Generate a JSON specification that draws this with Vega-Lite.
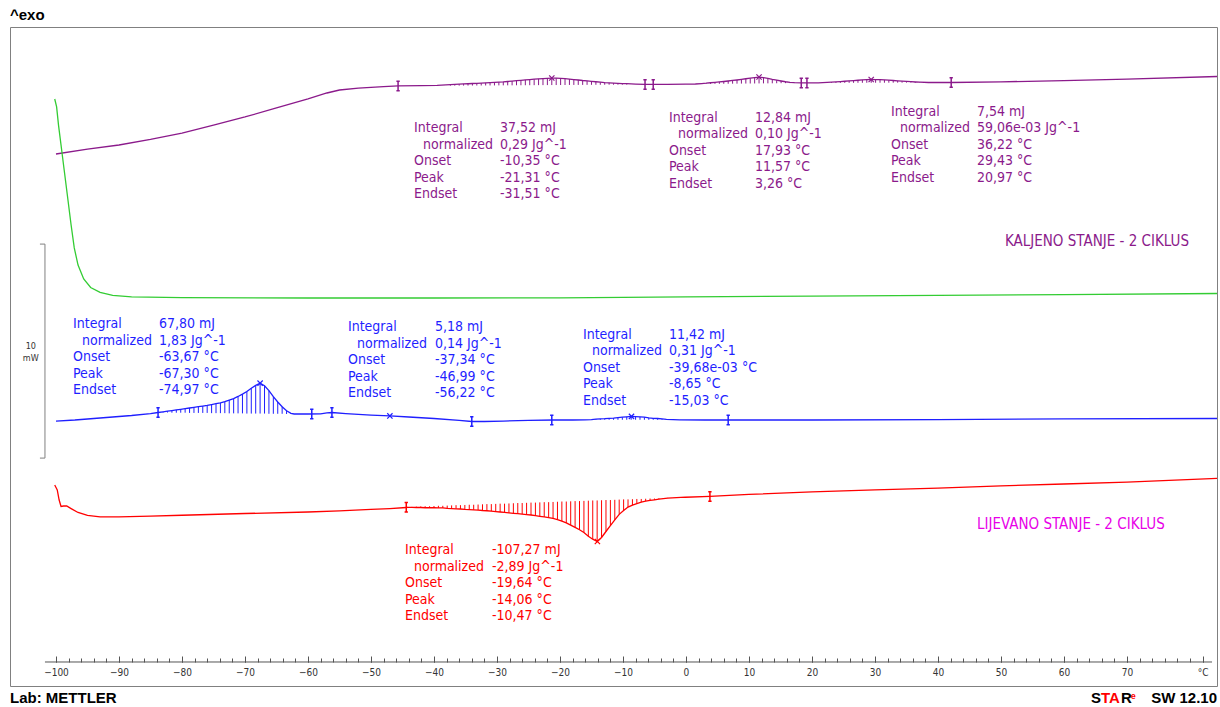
{
  "$schema": "https://vega.github.io/schema/vega-lite/v6.json",
  "width": 1207,
  "height": 659,
  "autosize": {"type": "none"},
  "padding": {"left": 10, "top": 27, "right": 3, "bottom": 21},
  "background": "white",
  "config": {"view": {"stroke": "#808080", "strokeWidth": 1}},
  "resolve": {"axis": {"x": "independent"}},
  "datasets": {
    "curves": [
      {"s":"purple","T":-100,"hf":24.86},{"s":"purple","T":-95,"hf":25.09},{"s":"purple","T":-90,"hf":25.28},{"s":"purple","T":-85,"hf":25.54},{"s":"purple","T":-80,"hf":25.84},{"s":"purple","T":-75,"hf":26.21},{"s":"purple","T":-70,"hf":26.59},{"s":"purple","T":-65,"hf":27.01},{"s":"purple","T":-60,"hf":27.43},{"s":"purple","T":-57,"hf":27.71},{"s":"purple","T":-55,"hf":27.85},{"s":"purple","T":-52,"hf":27.94},{"s":"purple","T":-48,"hf":28.01},{"s":"purple","T":-45.7,"hf":28.04},{"s":"purple","T":-42,"hf":28.05},{"s":"purple","T":-39.5,"hf":28.07},
      {"s":"purple","T":-37.4,"hf":28.106,"base":28.052},{"s":"purple","T":-36.7,"hf":28.115,"base":28.053},{"s":"purple","T":-36.0,"hf":28.124,"base":28.054},{"s":"purple","T":-35.3,"hf":28.134,"base":28.056},{"s":"purple","T":-34.6,"hf":28.143,"base":28.057},{"s":"purple","T":-33.9,"hf":28.153,"base":28.058},{"s":"purple","T":-33.2,"hf":28.162,"base":28.059},{"s":"purple","T":-32.5,"hf":28.172,"base":28.061},{"s":"purple","T":-31.8,"hf":28.183,"base":28.062},{"s":"purple","T":-31.1,"hf":28.195,"base":28.063},{"s":"purple","T":-30.4,"hf":28.207,"base":28.064},{"s":"purple","T":-29.7,"hf":28.22,"base":28.066},{"s":"purple","T":-29.0,"hf":28.231,"base":28.067},{"s":"purple","T":-28.3,"hf":28.248,"base":28.068},{"s":"purple","T":-27.6,"hf":28.265,"base":28.069},{"s":"purple","T":-26.9,"hf":28.284,"base":28.071},{"s":"purple","T":-26.2,"hf":28.301,"base":28.072},{"s":"purple","T":-25.5,"hf":28.319,"base":28.073},{"s":"purple","T":-24.8,"hf":28.337,"base":28.074},{"s":"purple","T":-24.1,"hf":28.355,"base":28.076},{"s":"purple","T":-23.4,"hf":28.373,"base":28.077},{"s":"purple","T":-22.7,"hf":28.384,"base":28.078},{"s":"purple","T":-22.0,"hf":28.396,"base":28.079},{"s":"purple","T":-21.3,"hf":28.408,"base":28.081},{"s":"purple","T":-20.6,"hf":28.402,"base":28.082},{"s":"purple","T":-19.9,"hf":28.396,"base":28.083},{"s":"purple","T":-19.2,"hf":28.383,"base":28.084},{"s":"purple","T":-18.5,"hf":28.362,"base":28.086},{"s":"purple","T":-17.8,"hf":28.339,"base":28.087},{"s":"purple","T":-17.1,"hf":28.317,"base":28.088},{"s":"purple","T":-16.4,"hf":28.295,"base":28.089},{"s":"purple","T":-15.7,"hf":28.278,"base":28.091},{"s":"purple","T":-15.0,"hf":28.256,"base":28.092},{"s":"purple","T":-14.3,"hf":28.236,"base":28.093},{"s":"purple","T":-13.6,"hf":28.215,"base":28.094},{"s":"purple","T":-12.9,"hf":28.194,"base":28.096},{"s":"purple","T":-12.2,"hf":28.183,"base":28.097},{"s":"purple","T":-11.5,"hf":28.17,"base":28.098},{"s":"purple","T":-10.8,"hf":28.16,"base":28.099},{"s":"purple","T":-10.1,"hf":28.151,"base":28.1},{"s":"purple","T":-9.4,"hf":28.144,"base":28.102},
      {"s":"purple","T":-8,"hf":28.125},{"s":"purple","T":-6.5,"hf":28.11},{"s":"purple","T":-5.2,"hf":28.11},{"s":"purple","T":-3,"hf":28.11},{"s":"purple","T":0,"hf":28.12},{"s":"purple","T":1.5,"hf":28.13},
      {"s":"purple","T":2.5,"hf":28.151,"base":28.13},{"s":"purple","T":3.2,"hf":28.167,"base":28.132},{"s":"purple","T":3.9,"hf":28.188,"base":28.134},{"s":"purple","T":4.6,"hf":28.206,"base":28.136},{"s":"purple","T":5.3,"hf":28.227,"base":28.138},{"s":"purple","T":6.0,"hf":28.247,"base":28.14},{"s":"purple","T":6.7,"hf":28.271,"base":28.142},{"s":"purple","T":7.4,"hf":28.295,"base":28.145},{"s":"purple","T":8.1,"hf":28.318,"base":28.147},{"s":"purple","T":8.8,"hf":28.345,"base":28.149},{"s":"purple","T":9.5,"hf":28.375,"base":28.151},{"s":"purple","T":10.2,"hf":28.403,"base":28.153},{"s":"purple","T":10.9,"hf":28.431,"base":28.155},{"s":"purple","T":11.6,"hf":28.456,"base":28.157},{"s":"purple","T":12.3,"hf":28.425,"base":28.159},{"s":"purple","T":13.0,"hf":28.395,"base":28.161},{"s":"purple","T":13.7,"hf":28.35,"base":28.163},{"s":"purple","T":14.4,"hf":28.31,"base":28.165},{"s":"purple","T":15.1,"hf":28.271,"base":28.168},{"s":"purple","T":15.8,"hf":28.235,"base":28.17},{"s":"purple","T":16.5,"hf":28.209,"base":28.172},{"s":"purple","T":17.2,"hf":28.193,"base":28.174},
      {"s":"purple","T":18.3,"hf":28.18},{"s":"purple","T":19.2,"hf":28.18},{"s":"purple","T":21,"hf":28.18},
      {"s":"purple","T":22.4,"hf":28.202,"base":28.181},{"s":"purple","T":23.1,"hf":28.215,"base":28.182},{"s":"purple","T":23.8,"hf":28.227,"base":28.183},{"s":"purple","T":24.5,"hf":28.241,"base":28.183},{"s":"purple","T":25.2,"hf":28.259,"base":28.184},{"s":"purple","T":25.9,"hf":28.276,"base":28.185},{"s":"purple","T":26.6,"hf":28.29,"base":28.185},{"s":"purple","T":27.3,"hf":28.305,"base":28.186},{"s":"purple","T":28.0,"hf":28.323,"base":28.187},{"s":"purple","T":28.7,"hf":28.333,"base":28.188},{"s":"purple","T":29.4,"hf":28.342,"base":28.188},{"s":"purple","T":30.1,"hf":28.339,"base":28.189},{"s":"purple","T":30.8,"hf":28.333,"base":28.19},{"s":"purple","T":31.5,"hf":28.321,"base":28.19},{"s":"purple","T":32.2,"hf":28.308,"base":28.191},{"s":"purple","T":32.9,"hf":28.295,"base":28.192},{"s":"purple","T":33.6,"hf":28.279,"base":28.193},{"s":"purple","T":34.3,"hf":28.263,"base":28.193},{"s":"purple","T":35.0,"hf":28.25,"base":28.194},{"s":"purple","T":35.7,"hf":28.237,"base":28.195},{"s":"purple","T":36.4,"hf":28.224,"base":28.196},{"s":"purple","T":37.1,"hf":28.215,"base":28.196},
      {"s":"purple","T":38.5,"hf":28.2},{"s":"purple","T":42.1,"hf":28.2},{"s":"purple","T":50,"hf":28.23},{"s":"purple","T":60,"hf":28.29},{"s":"purple","T":70,"hf":28.36},{"s":"purple","T":84.3,"hf":28.48},

      {"s":"green","T":-100.2,"hf":27.43},{"s":"green","T":-99.9,"hf":27.06},{"s":"green","T":-99.6,"hf":26.21},{"s":"green","T":-99.2,"hf":25.28},{"s":"green","T":-98.7,"hf":24.11},{"s":"green","T":-98.1,"hf":22.71},{"s":"green","T":-97.6,"hf":21.54},{"s":"green","T":-97.1,"hf":20.47},{"s":"green","T":-96.5,"hf":19.67},{"s":"green","T":-95.6,"hf":19.02},{"s":"green","T":-94.5,"hf":18.62},{"s":"green","T":-93,"hf":18.39},{"s":"green","T":-91,"hf":18.25},{"s":"green","T":-88,"hf":18.18},{"s":"green","T":-80,"hf":18.15},{"s":"green","T":-60,"hf":18.13},{"s":"green","T":-40,"hf":18.13},{"s":"green","T":-20,"hf":18.14},{"s":"green","T":0,"hf":18.18},{"s":"green","T":20,"hf":18.22},{"s":"green","T":40,"hf":18.25},{"s":"green","T":60,"hf":18.29},{"s":"green","T":84.3,"hf":18.34},

      {"s":"blue","T":-100,"hf":12.38},{"s":"blue","T":-97,"hf":12.43},{"s":"blue","T":-94,"hf":12.5},{"s":"blue","T":-91,"hf":12.57},{"s":"blue","T":-88,"hf":12.64},{"s":"blue","T":-85,"hf":12.73},{"s":"blue","T":-83.8,"hf":12.78},
      {"s":"blue","T":-83.0,"hf":12.81,"base":12.78},{"s":"blue","T":-82.3,"hf":12.84,"base":12.78},{"s":"blue","T":-81.6,"hf":12.87,"base":12.77},{"s":"blue","T":-80.9,"hf":12.9,"base":12.77},{"s":"blue","T":-80.2,"hf":12.93,"base":12.77},{"s":"blue","T":-79.5,"hf":12.96,"base":12.77},{"s":"blue","T":-78.8,"hf":12.99,"base":12.76},{"s":"blue","T":-78.1,"hf":13.02,"base":12.76},{"s":"blue","T":-77.4,"hf":13.05,"base":12.76},{"s":"blue","T":-76.7,"hf":13.08,"base":12.76},{"s":"blue","T":-76.0,"hf":13.11,"base":12.76},{"s":"blue","T":-75.3,"hf":13.15,"base":12.75},{"s":"blue","T":-74.6,"hf":13.19,"base":12.75},{"s":"blue","T":-73.9,"hf":13.23,"base":12.75},{"s":"blue","T":-73.2,"hf":13.29,"base":12.75},{"s":"blue","T":-72.5,"hf":13.36,"base":12.74},{"s":"blue","T":-71.8,"hf":13.43,"base":12.74},{"s":"blue","T":-71.1,"hf":13.53,"base":12.74},{"s":"blue","T":-70.4,"hf":13.64,"base":12.74},{"s":"blue","T":-69.7,"hf":13.76,"base":12.73},{"s":"blue","T":-69.0,"hf":13.91,"base":12.73},{"s":"blue","T":-68.3,"hf":14.05,"base":12.73},{"s":"blue","T":-67.6,"hf":14.15,"base":12.73},{"s":"blue","T":-66.9,"hf":14.03,"base":12.73},{"s":"blue","T":-66.2,"hf":13.8,"base":12.72},{"s":"blue","T":-65.5,"hf":13.52,"base":12.72},{"s":"blue","T":-64.8,"hf":13.27,"base":12.72},{"s":"blue","T":-64.1,"hf":13.05,"base":12.72},{"s":"blue","T":-63.4,"hf":12.86,"base":12.71},{"s":"blue","T":-62.7,"hf":12.74,"base":12.71},
      {"s":"blue","T":-62.2,"hf":12.71},{"s":"blue","T":-60,"hf":12.71},{"s":"blue","T":-58,"hf":12.72},{"s":"blue","T":-57,"hf":12.76},{"s":"blue","T":-56.2,"hf":12.78},{"s":"blue","T":-54,"hf":12.73},{"s":"blue","T":-50,"hf":12.66},{"s":"blue","T":-47,"hf":12.62},{"s":"blue","T":-44,"hf":12.57},{"s":"blue","T":-40,"hf":12.5},{"s":"blue","T":-36,"hf":12.41},{"s":"blue","T":-34,"hf":12.36},{"s":"blue","T":-32,"hf":12.36},{"s":"blue","T":-29,"hf":12.38},{"s":"blue","T":-25,"hf":12.41},{"s":"blue","T":-21,"hf":12.43},{"s":"blue","T":-18,"hf":12.43},{"s":"blue","T":-16,"hf":12.44},
      {"s":"blue","T":-15.0,"hf":12.45,"base":12.44},{"s":"blue","T":-14.3,"hf":12.47,"base":12.44},{"s":"blue","T":-13.6,"hf":12.48,"base":12.44},{"s":"blue","T":-12.9,"hf":12.49,"base":12.44},{"s":"blue","T":-12.2,"hf":12.51,"base":12.44},{"s":"blue","T":-11.5,"hf":12.52,"base":12.44},{"s":"blue","T":-10.8,"hf":12.54,"base":12.44},{"s":"blue","T":-10.1,"hf":12.56,"base":12.44},{"s":"blue","T":-9.4,"hf":12.58,"base":12.44},{"s":"blue","T":-8.7,"hf":12.6,"base":12.44},{"s":"blue","T":-8.0,"hf":12.59,"base":12.44},{"s":"blue","T":-7.3,"hf":12.58,"base":12.44},{"s":"blue","T":-6.6,"hf":12.56,"base":12.44},{"s":"blue","T":-5.9,"hf":12.53,"base":12.44},{"s":"blue","T":-5.2,"hf":12.51,"base":12.44},{"s":"blue","T":-4.5,"hf":12.5,"base":12.44},{"s":"blue","T":-3.8,"hf":12.48,"base":12.44},{"s":"blue","T":-3.1,"hf":12.46,"base":12.44},
      {"s":"blue","T":-1,"hf":12.44},{"s":"blue","T":3,"hf":12.43},{"s":"blue","T":6.7,"hf":12.43},{"s":"blue","T":20,"hf":12.43},{"s":"blue","T":40,"hf":12.45},{"s":"blue","T":60,"hf":12.48},{"s":"blue","T":84.3,"hf":12.5},

      {"s":"red","T":-100.2,"hf":9.39},{"s":"red","T":-99.8,"hf":9.16},{"s":"red","T":-99.5,"hf":8.69},{"s":"red","T":-99.2,"hf":8.39},{"s":"red","T":-98.8,"hf":8.41},{"s":"red","T":-98.3,"hf":8.41},{"s":"red","T":-97.6,"hf":8.29},{"s":"red","T":-96.5,"hf":8.11},{"s":"red","T":-95,"hf":7.97},{"s":"red","T":-93,"hf":7.9},{"s":"red","T":-90,"hf":7.9},{"s":"red","T":-85,"hf":7.94},{"s":"red","T":-80,"hf":7.98},{"s":"red","T":-70,"hf":8.06},{"s":"red","T":-60,"hf":8.13},{"s":"red","T":-55,"hf":8.18},{"s":"red","T":-50,"hf":8.25},{"s":"red","T":-47,"hf":8.29},{"s":"red","T":-44.4,"hf":8.34},
      {"s":"red","T":-44.2,"hf":8.35,"base":8.37},{"s":"red","T":-43.5,"hf":8.35,"base":8.37},{"s":"red","T":-42.8,"hf":8.34,"base":8.38},{"s":"red","T":-42.1,"hf":8.34,"base":8.39},{"s":"red","T":-41.4,"hf":8.33,"base":8.4},{"s":"red","T":-40.7,"hf":8.33,"base":8.4},{"s":"red","T":-40.0,"hf":8.33,"base":8.41},{"s":"red","T":-39.3,"hf":8.32,"base":8.42},{"s":"red","T":-38.6,"hf":8.32,"base":8.42},{"s":"red","T":-37.9,"hf":8.3,"base":8.43},{"s":"red","T":-37.2,"hf":8.29,"base":8.44},{"s":"red","T":-36.5,"hf":8.28,"base":8.45},{"s":"red","T":-35.8,"hf":8.27,"base":8.45},{"s":"red","T":-35.1,"hf":8.25,"base":8.46},{"s":"red","T":-34.4,"hf":8.24,"base":8.47},{"s":"red","T":-33.7,"hf":8.23,"base":8.47},{"s":"red","T":-33.0,"hf":8.22,"base":8.48},{"s":"red","T":-32.3,"hf":8.2,"base":8.49},{"s":"red","T":-31.6,"hf":8.19,"base":8.5},{"s":"red","T":-30.9,"hf":8.17,"base":8.5},{"s":"red","T":-30.2,"hf":8.15,"base":8.51},{"s":"red","T":-29.5,"hf":8.13,"base":8.52},{"s":"red","T":-28.8,"hf":8.11,"base":8.52},{"s":"red","T":-28.1,"hf":8.09,"base":8.53},{"s":"red","T":-27.4,"hf":8.07,"base":8.54},{"s":"red","T":-26.7,"hf":8.05,"base":8.55},{"s":"red","T":-26.0,"hf":8.03,"base":8.55},{"s":"red","T":-25.3,"hf":8.01,"base":8.56},{"s":"red","T":-24.6,"hf":7.99,"base":8.57},{"s":"red","T":-23.9,"hf":7.96,"base":8.57},{"s":"red","T":-23.2,"hf":7.93,"base":8.58},{"s":"red","T":-22.5,"hf":7.9,"base":8.59},{"s":"red","T":-21.8,"hf":7.87,"base":8.59},{"s":"red","T":-21.1,"hf":7.83,"base":8.6},{"s":"red","T":-20.4,"hf":7.77,"base":8.61},{"s":"red","T":-19.7,"hf":7.7,"base":8.62},{"s":"red","T":-19.0,"hf":7.62,"base":8.62},{"s":"red","T":-18.3,"hf":7.52,"base":8.63},{"s":"red","T":-17.6,"hf":7.41,"base":8.64},{"s":"red","T":-16.9,"hf":7.3,"base":8.64},{"s":"red","T":-16.2,"hf":7.17,"base":8.65},{"s":"red","T":-15.5,"hf":7.0,"base":8.66},{"s":"red","T":-14.8,"hf":6.86,"base":8.67},{"s":"red","T":-14.1,"hf":6.75,"base":8.67},{"s":"red","T":-13.4,"hf":6.94,"base":8.68},{"s":"red","T":-12.7,"hf":7.22,"base":8.69},{"s":"red","T":-12.0,"hf":7.49,"base":8.69},{"s":"red","T":-11.3,"hf":7.76,"base":8.7},{"s":"red","T":-10.6,"hf":8.02,"base":8.71},{"s":"red","T":-9.9,"hf":8.2,"base":8.72},{"s":"red","T":-9.2,"hf":8.36,"base":8.72},{"s":"red","T":-8.5,"hf":8.45,"base":8.73},{"s":"red","T":-7.8,"hf":8.52,"base":8.74},{"s":"red","T":-7.1,"hf":8.59,"base":8.74},{"s":"red","T":-6.4,"hf":8.64,"base":8.75},{"s":"red","T":-5.7,"hf":8.67,"base":8.76},{"s":"red","T":-5.0,"hf":8.7,"base":8.76},{"s":"red","T":-4.3,"hf":8.73,"base":8.77},{"s":"red","T":-3.6,"hf":8.76,"base":8.78},{"s":"red","T":-2.9,"hf":8.78,"base":8.79},{"s":"red","T":-2.2,"hf":8.79,"base":8.79},{"s":"red","T":-1.5,"hf":8.8,"base":8.8},{"s":"red","T":-0.8,"hf":8.81,"base":8.81},
      {"s":"red","T":-0.1,"hf":8.82},{"s":"red","T":3.8,"hf":8.86},{"s":"red","T":10,"hf":8.95},{"s":"red","T":20,"hf":9.07},{"s":"red","T":30,"hf":9.16},{"s":"red","T":40,"hf":9.25},{"s":"red","T":50,"hf":9.35},{"s":"red","T":60,"hf":9.44},{"s":"red","T":70,"hf":9.53},{"s":"red","T":84.3,"hf":9.7}
    ],
    "limits": [
      {"s":"purple","T":-45.7,"hf":28.04},{"s":"purple","T":-6.5,"hf":28.11},{"s":"purple","T":-5.2,"hf":28.11},{"s":"purple","T":18.3,"hf":28.18},{"s":"purple","T":19.2,"hf":28.18},{"s":"purple","T":42.1,"hf":28.2},
      {"s":"blue","T":-83.8,"hf":12.78},{"s":"blue","T":-59.4,"hf":12.71},{"s":"blue","T":-56.2,"hf":12.78},{"s":"blue","T":-34.0,"hf":12.36},{"s":"blue","T":-21.3,"hf":12.43},{"s":"blue","T":6.7,"hf":12.43},
      {"s":"red","T":-44.4,"hf":8.35},{"s":"red","T":3.8,"hf":8.86}
    ],
    "peaks": [
      {"s":"purple","T":-21.3,"hf":28.41},{"s":"purple","T":11.6,"hf":28.46},{"s":"purple","T":29.4,"hf":28.34},
      {"s":"blue","T":-67.6,"hf":14.15},{"s":"blue","T":-47.0,"hf":12.62},{"s":"blue","T":-8.65,"hf":12.6},
      {"s":"red","T":-14.06,"hf":6.75}
    ],
    "notes": [
      {"s":"purple","T":-43.17,"y":26.38,"txt":"Integral"},
      {"s":"purple","T":-41.74,"y":25.609,"txt":"normalized"},
      {"s":"purple","T":-43.17,"y":24.838,"txt":"Onset\nPeak\nEndset"},
      {"s":"purple","T":-29.52,"y":26.38,"txt":"37,52 mJ\n0,29 Jg^-1\n-10,35 °C\n-21,31 °C\n-31,51 °C"},
      {"s":"purple","T":-2.70,"y":26.89,"txt":"Integral"},
      {"s":"purple","T":-1.27,"y":26.119,"txt":"normalized"},
      {"s":"purple","T":-2.70,"y":25.348,"txt":"Onset\nPeak\nEndset"},
      {"s":"purple","T":10.95,"y":26.89,"txt":"12,84 mJ\n0,10 Jg^-1\n17,93 °C\n11,57 °C\n3,26 °C"},
      {"s":"purple","T":32.54,"y":27.17,"txt":"Integral"},
      {"s":"purple","T":33.97,"y":26.399,"txt":"normalized"},
      {"s":"purple","T":32.54,"y":25.628,"txt":"Onset\nPeak\nEndset"},
      {"s":"purple","T":46.19,"y":27.17,"txt":"7,54 mJ\n59,06e-03 Jg^-1\n36,22 °C\n29,43 °C\n20,97 °C"},
      {"s":"blue","T":-97.30,"y":17.22,"txt":"Integral"},
      {"s":"blue","T":-95.87,"y":16.449,"txt":"normalized"},
      {"s":"blue","T":-97.30,"y":15.678,"txt":"Onset\nPeak\nEndset"},
      {"s":"blue","T":-83.65,"y":17.22,"txt":"67,80 mJ\n1,83 Jg^-1\n-63,67 °C\n-67,30 °C\n-74,97 °C"},
      {"s":"blue","T":-53.65,"y":17.08,"txt":"Integral"},
      {"s":"blue","T":-52.22,"y":16.309,"txt":"normalized"},
      {"s":"blue","T":-53.65,"y":15.538,"txt":"Onset\nPeak\nEndset"},
      {"s":"blue","T":-39.84,"y":17.08,"txt":"5,18 mJ\n0,14 Jg^-1\n-37,34 °C\n-46,99 °C\n-56,22 °C"},
      {"s":"blue","T":-16.35,"y":16.75,"txt":"Integral"},
      {"s":"blue","T":-14.92,"y":15.979,"txt":"normalized"},
      {"s":"blue","T":-16.35,"y":15.208,"txt":"Onset\nPeak\nEndset"},
      {"s":"blue","T":-2.70,"y":16.75,"txt":"11,42 mJ\n0,31 Jg^-1\n-39,68e-03 °C\n-8,65 °C\n-15,03 °C"},
      {"s":"red","T":-44.60,"y":6.66,"txt":"Integral"},
      {"s":"red","T":-43.17,"y":5.889,"txt":"normalized"},
      {"s":"red","T":-44.60,"y":5.118,"txt":"Onset\nPeak\nEndset"},
      {"s":"red","T":-30.79,"y":6.66,"txt":"-107,27 mJ\n-2,89 Jg^-1\n-19,64 °C\n-14,06 °C\n-10,47 °C"}
    ],
    "labels": [
      {"s":"purple","T":50.63,"y":20.79,"txt":"KALJENO STANJE - 2 CIKLUS"},
      {"s":"magenta","T":46.19,"y":7.57,"txt":"LIJEVANO STANJE - 2 CIKLUS"}
    ],
    "scalebar": [
      {"x1":-101.75,"x2":-101.75,"y1":10.65,"y2":20.65},
      {"x1":-102.55,"x2":-101.75,"y1":20.65,"y2":20.65},
      {"x1":-102.55,"x2":-101.75,"y1":10.65,"y2":10.65}
    ]
  },
  "layer": [
    {
      "data": {"name": "curves"},
      "transform": [{"filter": "isValid(datum.base)"}],
      "mark": {"type": "rule", "strokeWidth": 1},
      "encoding": {
        "x": {"field": "T", "type": "quantitative", "scale": {"domain": [-107.3, 84.29], "nice": false, "zero": false},
              "axis": {"orient": "bottom", "offset": -24, "values": [-100,-98,-96,-94,-92,-90,-88,-86,-84,-82,-80,-78,-76,-74,-72,-70,-68,-66,-64,-62,-60,-58,-56,-54,-52,-50,-48,-46,-44,-42,-40,-38,-36,-34,-32,-30,-28,-26,-24,-22,-20,-18,-16,-14,-12,-10,-8,-6,-4,-2,0,2,4,6,8,10,12,14,16,18,20,22,24,26,28,30,32,34,36,38,40,42,44,46,48,50,52,54,56,58,60,62,64,66,68,70,72,74,76,78,80,82], "labels": false, "domain": false, "grid": false, "tickSize": -4, "tickColor": "#555555", "title": null}},
        "y": {"field": "hf", "type": "quantitative", "scale": {"domain": [0, 30.794], "nice": false, "zero": false}, "axis": null},
        "y2": {"field": "base"},
        "color": {"field": "s", "type": "nominal", "scale": {"domain": ["purple","green","blue","red","magenta"], "range": ["#8b1a8b","#33cc33","#1f1fff","#ff0000","#e800e8"]}, "legend": null}
      }
    },
    {
      "data": {"name": "curves"},
      "mark": {"type": "line", "strokeWidth": 1.3},
      "encoding": {
        "x": {"field": "T", "type": "quantitative", "scale": {"domain": [-107.3, 84.29], "nice": false, "zero": false},
              "axis": {"orient": "bottom", "offset": -24, "values": [-100,-90,-80,-70,-60,-50,-40,-30,-20,-10,0,10,20,30,40,50,60,70,82], "labelExpr": "datum.value == 82 ? '°C' : datum.label", "domain": false, "grid": false, "tickSize": -6, "tickColor": "#555555", "labelPadding": 11, "labelFont": "DejaVu Sans Condensed", "labelFontSize": 10, "labelColor": "#333333", "labelOverlap": false, "labelFlush": false, "title": null}},
        "y": {"field": "hf", "type": "quantitative", "scale": {"domain": [0, 30.794], "nice": false, "zero": false}, "axis": null},
        "color": {"field": "s", "type": "nominal", "scale": {"domain": ["purple","green","blue","red","magenta"], "range": ["#8b1a8b","#33cc33","#1f1fff","#ff0000","#e800e8"]}, "legend": null}
      }
    },
    {
      "data": {"name": "limits"},
      "mark": {"type": "point", "shape": "M0,-1L0,1M-0.35,-1L0.35,-1M-0.35,1L0.35,1", "size": 90, "filled": false, "strokeWidth": 1.5, "opacity": 1},
      "encoding": {
        "x": {"field": "T", "type": "quantitative", "axis": null},
        "y": {"field": "hf", "type": "quantitative", "axis": null},
        "color": {"field": "s", "type": "nominal", "legend": null}
      }
    },
    {
      "data": {"name": "peaks"},
      "mark": {"type": "point", "shape": "M-1,-1L1,1M-1,1L1,-1", "size": 28, "filled": false, "strokeWidth": 1.2, "opacity": 1},
      "encoding": {
        "x": {"field": "T", "type": "quantitative", "axis": null},
        "y": {"field": "hf", "type": "quantitative", "axis": null},
        "color": {"field": "s", "type": "nominal", "legend": null}
      }
    },
    {
      "data": {"name": "notes"},
      "mark": {"type": "text", "align": "left", "baseline": "top", "lineBreak": "\n", "lineHeight": 16.5, "font": "DejaVu Sans Condensed", "fontSize": 14},
      "encoding": {
        "x": {"field": "T", "type": "quantitative", "axis": null},
        "y": {"field": "y", "type": "quantitative", "axis": null},
        "text": {"field": "txt", "type": "nominal"},
        "color": {"field": "s", "type": "nominal", "legend": null}
      }
    },
    {
      "data": {"name": "labels"},
      "mark": {"type": "text", "align": "left", "baseline": "middle", "font": "DejaVu Sans Condensed", "fontSize": 15},
      "encoding": {
        "x": {"field": "T", "type": "quantitative", "axis": null},
        "y": {"field": "y", "type": "quantitative", "axis": null},
        "text": {"field": "txt", "type": "nominal"},
        "color": {"field": "s", "type": "nominal", "legend": null}
      }
    },
    {
      "data": {"name": "scalebar"},
      "mark": {"type": "rule", "color": "#808080", "strokeWidth": 1},
      "encoding": {
        "x": {"field": "x1", "type": "quantitative", "axis": null},
        "x2": {"field": "x2"},
        "y": {"field": "y1", "type": "quantitative", "axis": null},
        "y2": {"field": "y2"}
      }
    },
    {
      "data": {"values": [{}]},
      "mark": {"type": "rule", "color": "#555555", "strokeWidth": 1},
      "encoding": {
        "x": {"datum": -101.75, "type": "quantitative", "axis": null},
        "x2": {"datum": 83.5},
        "y": {"datum": 1.1215, "type": "quantitative", "axis": null}
      }
    },
    {
      "data": {"values": [{}]},
      "mark": {"type": "text", "align": "center", "baseline": "middle", "font": "DejaVu Sans Condensed", "fontSize": 9, "color": "#333333", "lineBreak": "\n", "lineHeight": 12.5},
      "encoding": {
        "x": {"datum": -104.0, "type": "quantitative", "axis": null},
        "y": {"datum": 15.91, "type": "quantitative", "axis": null},
        "text": {"value": "10\nmW"}
      }
    },
    {
      "data": {"values": [{}]},
      "mark": {"type": "text", "align": "left", "baseline": "middle", "font": "Liberation Sans", "fontWeight": "bold", "fontSize": 15, "color": "#000000"},
      "encoding": {
        "x": {"datum": -107.3, "type": "quantitative", "axis": null},
        "y": {"datum": 31.36, "type": "quantitative", "axis": null},
        "text": {"value": "^exo"}
      }
    },
    {
      "data": {"values": [{}]},
      "mark": {"type": "text", "align": "left", "baseline": "middle", "font": "Liberation Sans", "fontWeight": "bold", "fontSize": 15, "color": "#000000"},
      "encoding": {
        "x": {"datum": -107.3, "type": "quantitative", "axis": null},
        "y": {"datum": -0.56, "type": "quantitative", "axis": null},
        "text": {"value": "Lab: METTLER"}
      }
    },
    {
      "data": {"values": [{}]},
      "mark": {"type": "text", "align": "right", "baseline": "middle", "font": "Liberation Sans", "fontWeight": "bold", "fontSize": 15, "color": "#000000"},
      "encoding": {
        "x": {"datum": 84.29, "type": "quantitative", "axis": null},
        "y": {"datum": -0.56, "type": "quantitative", "axis": null},
        "text": {"value": "SW 12.10"}
      }
    },
    {
      "data": {"values": [{}]},
      "mark": {"type": "text", "align": "left", "baseline": "middle", "font": "Liberation Sans", "fontWeight": "bold", "fontSize": 15, "color": "#000000"},
      "encoding": {
        "x": {"datum": 64.29, "type": "quantitative", "axis": null},
        "y": {"datum": -0.56, "type": "quantitative", "axis": null},
        "text": {"value": "S"}
      }
    },
    {
      "data": {"values": [{}]},
      "mark": {"type": "text", "align": "left", "baseline": "middle", "font": "Liberation Sans", "fontWeight": "bold", "fontSize": 15, "color": "#ff0000"},
      "encoding": {
        "x": {"datum": 65.87, "type": "quantitative", "axis": null},
        "y": {"datum": -0.56, "type": "quantitative", "axis": null},
        "text": {"value": "TA"}
      }
    },
    {
      "data": {"values": [{}]},
      "mark": {"type": "text", "align": "left", "baseline": "middle", "font": "Liberation Sans", "fontWeight": "bold", "fontSize": 15, "color": "#000000"},
      "encoding": {
        "x": {"datum": 69.05, "type": "quantitative", "axis": null},
        "y": {"datum": -0.56, "type": "quantitative", "axis": null},
        "text": {"value": "R"}
      }
    },
    {
      "data": {"values": [{}]},
      "mark": {"type": "text", "align": "left", "baseline": "middle", "font": "Liberation Sans", "fontWeight": "bold", "fontSize": 9, "color": "#ff0000"},
      "encoding": {
        "x": {"datum": 70.6, "type": "quantitative", "axis": null},
        "y": {"datum": -0.45, "type": "quantitative", "axis": null},
        "text": {"value": "e"}
      }
    }
  ]
}
